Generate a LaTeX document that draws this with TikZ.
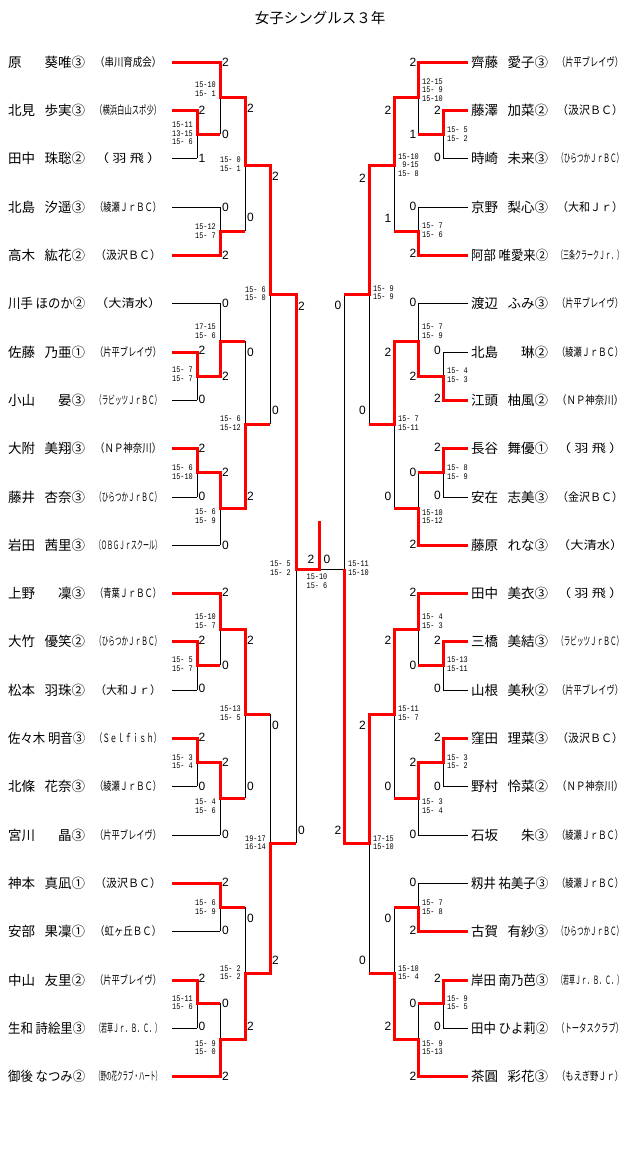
\documentclass[tikz,border=0pt]{standalone}
\usepackage{fontspec}
\usepackage{graphicx}
\setmainfont{Liberation Sans}
\newfontfamily\jp{Noto Sans CJK JP}
\newfontfamily\scfont[FakeStretch=0.8]{Liberation Mono}
\newsavebox\nmsave
\newcommand\nmb[1]{\sbox\nmsave{#1}\ifdim\wd\nmsave>73pt\relax\resizebox{77pt}{\height}{#1}\else\makebox[77pt][s]{#1}\fi}
\newcommand\afb[1]{\resizebox{66pt}{\height}{#1}}
\tikzset{
 ln/.style={black, line width=1pt},
 win/.style={red, line width=3pt, line join=miter},
 nm/.style={inner sep=0pt, anchor=west, font=\jp\fontsize{13.5}{14}\selectfont},
 af/.style={inner sep=0pt, anchor=west, font=\jp\fontsize{11.5}{12}\selectfont},
 dig/.style={inner sep=0pt, font=\fontsize{12}{12}\selectfont},
 digL/.style={dig, anchor=west},
 digR/.style={dig, anchor=east},
 sco/.style={inner sep=0pt, align=left, font=\scfont\fontsize{8.6}{8.6}\selectfont},
 scoL/.style={sco, anchor=east},
 scoR/.style={sco, anchor=west},
}
\begin{document}
\begin{tikzpicture}[x=1pt,y=-1pt]
\fill[white] (0,0) rectangle (640,1157);
\useasboundingbox (0,0) rectangle (640,1157);
% player line ends
\foreach \k/\y in {1/62,2/110,3/158,4/207,5/255,6/303,7/352,8/400,9/448,10/497,11/545,12/593,13/641,14/690,15/738,16/786,17/835,18/883,19/931,20/980,21/1028,22/1076}{
  \coordinate (p\k L) at (172,\y);
  \coordinate (p\k R) at (468,\y);
}
% match joins
\foreach \k/\x/\y in {1/197/134,2/220/97,3/220/231,4/245/165,5/197/376,6/220/341,7/197/472,8/220/508,9/245/424,10/270/294,11/197/665,12/220/629,13/197/762,14/220/798,15/245/714,16/220/907,17/197/1003,18/220/1039,19/245/973,20/270/843,21/296/569}{\coordinate (m\k L) at (\x,\y);}
\foreach \k/\x/\y in {1/443/134,2/418/97,3/418/231,4/394/165,5/443/376,6/418/341,7/443/472,8/418/508,9/394/424,10/369/294,11/443/665,12/418/629,13/443/762,14/418/798,15/394/714,16/418/907,17/443/1003,18/418/1039,19/394/973,20/369/843,21/344/569}{\coordinate (m\k R) at (\x,\y);}
\coordinate (fin) at (319,569);
\coordinate (champ) at (319,521);
% black skeleton
\foreach \s in {L,R}{
 \foreach \p/\m in {1/2,2/1,3/1,4/3,5/3,6/6,7/5,8/5,9/7,10/7,11/8,12/12,13/11,14/11,15/13,16/13,17/14,18/16,19/16,20/17,21/17,22/18}
   {\draw[ln] (p\p\s) -- (m\m\s |- p\p\s);}
 \foreach \m/\xa/\xb in {1/p2/p3,2/p1/m1,3/p4/p5,4/m2/m3,5/p7/p8,6/p6/m5,7/p9/p10,8/m7/p11,9/m6/m8,10/m4/m9,11/p13/p14,12/p12/m11,13/p15/p16,14/m13/p17,15/m12/m14,16/p18/p19,17/p20/p21,18/m17/p22,19/m16/m18,20/m15/m19,21/m10/m20}
   {\draw[ln] (m\m\s |- \xa\s) -- (m\m\s |- \xb\s);}
}
\draw[ln] (m21R) -- (fin);
% winners' paths, left
\draw[win] (p1L) -| (m2L) -| (m4L) -| (m10L) -| (m21L) -| (champ);
\draw[win] (p2L) -| (m1L) -- (m2L |- m1L);
\draw[win] (p5L) -| (m3L) -- (m4L |- m3L);
\draw[win] (p7L) -| (m5L) -| (m6L) -- (m9L |- m6L);
\draw[win] (p9L) -| (m7L) -| (m8L) -| (m9L) -- (m10L |- m9L);
\draw[win] (p12L) -| (m12L) -| (m15L) -- (m20L |- m15L);
\draw[win] (p13L) -| (m11L) -- (m12L |- m11L);
\draw[win] (p15L) -| (m13L) -| (m14L) -- (m15L |- m14L);
\draw[win] (p18L) -| (m16L) -- (m19L |- m16L);
\draw[win] (p20L) -| (m17L) -- (m18L |- m17L);
\draw[win] (p22L) -| (m18L) -| (m19L) -| (m20L) -- (m21L |- m20L);
% winners' paths, right
\draw[win] (p1R) -| (m2R) -| (m4R) -| (m10R) -- (m21R |- m10R);
\draw[win] (p2R) -| (m1R) -- (m2R |- m1R);
\draw[win] (p5R) -| (m3R) -- (m4R |- m3R);
\draw[win] (p8R) -| (m5R) -| (m6R) -| (m9R) -- (m10R |- m9R);
\draw[win] (p9R) -| (m7R) -- (m8R |- m7R);
\draw[win] (p11R) -| (m8R) -- (m9R |- m8R);
\draw[win] (p12R) -| (m12R) -| (m15R) -| (m20R) -| (m21R);
\draw[win] (p13R) -| (m11R) -- (m12R |- m11R);
\draw[win] (p15R) -| (m13R) -| (m14R) -- (m15R |- m14R);
\draw[win] (p19R) -| (m16R) -- (m19R |- m16R);
\draw[win] (p20R) -| (m17R) -- (m18R |- m17R);
\draw[win] (p22R) -| (m18R) -| (m19R) -- (m20R |- m19R);
% title
\node[inner sep=0pt, font=\jp\fontsize{14.5}{15}\selectfont] (title) at (320,18) {女子シングルス３年};
% names, left
\foreach \k/\y/\nam/\aff in {1/62/原 葵唯③/（串川育成会）,2/110/北見 歩実③/（横浜白山スポ少）,3/158/田中 珠聡②/（ 羽 飛 ）,4/207/北島 汐遥③/（綾瀬ＪｒＢＣ）,5/255/高木 紘花②/（汲沢ＢＣ）,6/303/川手 ほのか②/（大清水）,7/352/佐藤 乃亜①/（片平ブレイヴ）,8/400/小山 晏③/（ラビッツＪｒＢＣ）,9/448/大附 美翔③/（ＮＰ神奈川）,10/497/藤井 杏奈③/（ひらつかＪｒＢＣ）,11/545/岩田 茜里③/（ＯＢＧＪｒスクール）,12/593/上野 凜③/（青葉ＪｒＢＣ）,13/641/大竹 優笑②/（ひらつかＪｒＢＣ）,14/690/松本 羽珠②/（大和Ｊｒ）,15/738/佐々木 明音③/（Ｓｅｌｆｉｓｈ）,16/786/北條 花奈③/（綾瀬ＪｒＢＣ）,17/835/宮川 晶③/（片平ブレイヴ）,18/883/神本 真凪①/（汲沢ＢＣ）,19/931/安部 果凜①/（虹ヶ丘ＢＣ）,20/980/中山 友里②/（片平ブレイヴ）,21/1028/生和 詩絵里③/（若草Ｊｒ．Ｂ．Ｃ．）,22/1076/御後 なつみ②/（野の花クラブ・ハート）}{
  \node[nm] (nL\k) at (8,\y) {\nmb{\nam}};
  \node[af] (aL\k) at (95,\y) {\afb{\aff}};
}
% names, right
\foreach \k/\y/\nam/\aff in {1/62/齊藤 愛子③/（片平ブレイヴ）,2/110/藤澤 加菜②/（汲沢ＢＣ）,3/158/時崎 未来③/（ひらつかＪｒＢＣ）,4/207/京野 梨心③/（大和Ｊｒ）,5/255/阿部 唯愛来②/（三条クラークＪｒ．）,6/303/渡辺 ふみ③/（片平ブレイヴ）,7/352/北島 琳②/（綾瀬ＪｒＢＣ）,8/400/江頭 柚風②/（ＮＰ神奈川）,9/448/長谷 舞優①/（ 羽 飛 ）,10/497/安在 志美③/（金沢ＢＣ）,11/545/藤原 れな③/（大清水）,12/593/田中 美衣③/（ 羽 飛 ）,13/641/三橋 美結③/（ラビッツＪｒＢＣ）,14/690/山根 美秋②/（片平ブレイヴ）,15/738/窪田 理菜③/（汲沢ＢＣ）,16/786/野村 怜菜②/（ＮＰ神奈川）,17/835/石坂 朱③/（綾瀬ＪｒＢＣ）,18/883/籾井 祐美子③/（綾瀬ＪｒＢＣ）,19/931/古賀 有紗③/（ひらつかＪｒＢＣ）,20/980/岸田 南乃芭③/（若草Ｊｒ．Ｂ．Ｃ．）,21/1028/田中 ひよ莉②/（トータスクラブ）,22/1076/茶圓 彩花③/（もえぎ野Ｊｒ）}{
  \node[nm] (nR\k) at (471,\y) {\nmb{\nam}};
  \node[af] (aR\k) at (557,\y) {\afb{\aff}};
}
% game counts, left
\foreach \x/\y/\tx in {198.5/110/2,198.5/158/1,198.5/350/2,198.5/399/0,198.5/448/2,198.5/496/0,198.5/640/2,198.5/688/0,198.5/737/2,198.5/786/0,198.5/978/2,198.5/1026/0,
 222/62/2,222/134/0,222/207/0,222/255/2,222/303/0,222/376/2,222/472/2,222/545/0,222/592/2,222/665/0,222/762/2,222/834/0,222/882/2,222/930/0,222/1003/0,222/1076/2,
 247/108/2,247/217/0,247/352/0,247/496/2,247/640/2,247/786/0,247/918/0,247/1026/2,
 272/176/2,272/410/0,272/725/0,272/960/2,
 298/306/2,298/830/0}
 {\node[digL] (gl\x-\y) at (\x,\y) {\tx};}
% game counts, right
\foreach \x/\y/\tx in {441/110/2,441/157/0,441/350/0,441/398/2,441/447/2,441/495/0,441/640/2,441/688/0,441/737/2,441/786/0,441/978/2,441/1026/0,
 416.5/62/2,416.5/134/1,416.5/206/0,416.5/253/2,416.5/302/0,416.5/376/2,416.5/472/0,416.5/544/2,416.5/592/2,416.5/665/0,416.5/762/2,416.5/834/0,416.5/882/0,416.5/930/2,416.5/1003/0,416.5/1076/2,
 391.5/110/2,391.5/218/1,391.5/352/2,391.5/496/0,391.5/640/2,391.5/786/0,391.5/918/0,391.5/1026/2,
 366/178/2,366/410/0,366/725/2,366/960/0,
 341.5/305/0,341.5/830/2}
 {\node[digR] (gr\x-\y) at (\x,\y) {\tx};}
\node[dig] (fl) at (311,559) {2};
\node[dig] (fr) at (327,559) {0};
% set scores, left
\node[scoL] (sA1) at (193,133.5) {15-11\\13-15\\15- 6};
\node[scoL] (sA2) at (216,89) {15-10\\15- 1};
\node[scoL] (sA3) at (216,231) {15-12\\15- 7};
\node[scoL] (sA4) at (241,164) {15- 0\\15- 1};
\node[scoL] (sB1) at (193,374.5) {15- 7\\15- 7};
\node[scoL] (sB2) at (216,331) {17-15\\15- 6};
\node[scoL] (sB3) at (193,472) {15- 6\\15-10};
\node[scoL] (sB4) at (216,516) {15- 6\\15- 9};
\node[scoL] (sB5) at (241,423) {15- 6\\15-12};
\node[scoL] (sAB) at (266,293.5) {15- 6\\15- 0};
\node[scoL] (sSL) at (291,568.5) {15- 5\\15- 2};
\node[scoL] (sC1) at (193,664) {15- 5\\15- 7};
\node[scoL] (sC2) at (216,621) {15-10\\15- 7};
\node[scoL] (sC3) at (193,761.5) {15- 3\\15- 4};
\node[scoL] (sC4) at (216,806) {15- 4\\15- 6};
\node[scoL] (sC5) at (241,713) {15-13\\15- 5};
\node[scoL] (sCD) at (266,842.5) {19-17\\16-14};
\node[scoL] (sD1) at (216,907) {15- 6\\15- 9};
\node[scoL] (sD2) at (193,1002.5) {15-11\\15- 6};
\node[scoL] (sD3) at (216,1047.5) {15- 9\\15- 0};
\node[scoL] (sD4) at (241,972.5) {15- 2\\15- 2};
\node[sco] (sF) at (317,581) {15-10\\15- 6};
% set scores, right
\node[scoR] (tA1) at (422,90) {12-15\\15- 9\\15-10};
\node[scoR] (tA2) at (447,134) {15- 5\\15- 2};
\node[scoR] (tA3) at (422,230) {15- 7\\15- 6};
\node[scoR] (tA4) at (398,165) {15-10\\\phantom{1}9-15\\15- 8};
\node[scoR] (tAB) at (373,292.5) {15- 9\\15- 9};
\node[scoR] (tB1) at (422,331) {15- 7\\15- 9};
\node[scoR] (tB2) at (447,375) {15- 4\\15- 3};
\node[scoR] (tB3) at (447,472) {15- 8\\15- 9};
\node[scoR] (tB4) at (422,516.5) {15-10\\15-12};
\node[scoR] (tB5) at (398,423.5) {15- 7\\15-11};
\node[scoR] (tSR) at (348,568.5) {15-11\\15-10};
\node[scoR] (tC1) at (422,621) {15- 4\\15- 3};
\node[scoR] (tC2) at (447,664) {15-13\\15-11};
\node[scoR] (tC3) at (447,761.5) {15- 3\\15- 2};
\node[scoR] (tC4) at (422,806) {15- 3\\15- 4};
\node[scoR] (tC5) at (398,713) {15-11\\15- 7};
\node[scoR] (tCD) at (373,842.5) {17-15\\15-10};
\node[scoR] (tD1) at (422,907) {15- 7\\15- 8};
\node[scoR] (tD2) at (447,1002.5) {15- 9\\15- 5};
\node[scoR] (tD3) at (422,1047.5) {15- 9\\15-13};
\node[scoR] (tD4) at (398,972.5) {15-10\\15- 4};
\end{tikzpicture}
\end{document}
